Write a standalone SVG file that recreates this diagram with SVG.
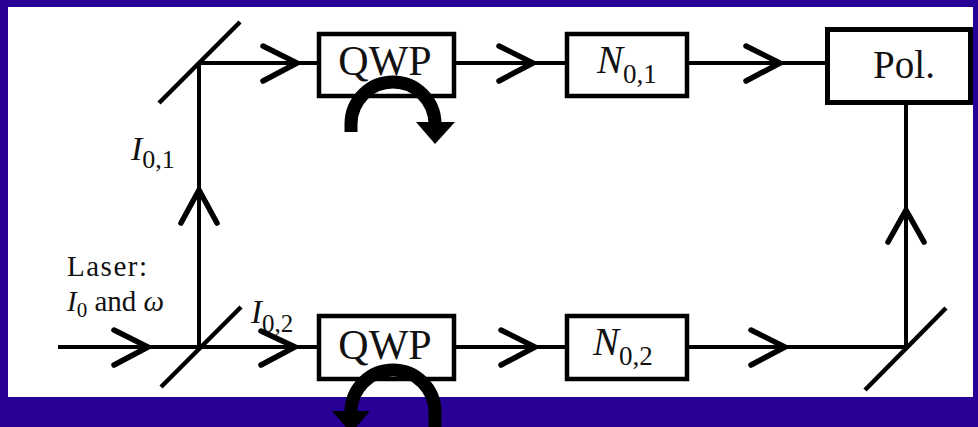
<svg xmlns="http://www.w3.org/2000/svg" width="978" height="427" viewBox="0 0 978 427">
<style>
.bg{fill:#290096}
.paper{fill:#ffffff}
.box{fill:#ffffff;stroke:#000;stroke-width:4.5}
.line{stroke:#000;stroke-width:4;fill:none}
.chev{stroke:#000;stroke-width:5.5;fill:none;stroke-linecap:round;stroke-linejoin:miter}
.mirror{stroke:#000;stroke-width:4.5;fill:none}
.rot{stroke:#000;stroke-width:13;fill:none}
text{fill:#111}
.it{font-style:italic}
</style>
<rect class="bg" x="0" y="0" width="978" height="427"/>
<rect class="paper" x="8" y="7" width="965" height="390"/>

<g id="connectors">
  <path class="line" d="M199 63 H319 M454 63 H567 M687 63 H827"/>
  <path class="line" d="M58 347 H319 M454 347 H567 M687 347 H906"/>
  <path class="line" d="M199 347 V63"/>
  <path class="line" d="M906 347 V103"/>
  <polyline class="chev" points="263,46 297,63 263,81"/>
  <polyline class="chev" points="499,46 533,63 499,81"/>
  <polyline class="chev" points="746,46 780,63 746,81"/>
  <polyline class="chev" points="114,330 148,347 114,365"/>
  <polyline class="chev" points="261,331 295,347 261,365"/>
  <polyline class="chev" points="501,330 535,347 501,365"/>
  <polyline class="chev" points="751,330 785,347 751,365"/>
  <polyline class="chev" points="181,223 199,190 217,223"/>
  <polyline class="chev" points="888,242 906,210 924,242"/>
</g>

<g id="mirror-top"><line class="mirror" x1="159" y1="103" x2="240" y2="22"/></g>
<g id="splitter"><line class="mirror" x1="161" y1="387" x2="241" y2="307"/></g>
<g id="mirror-right"><line class="mirror" x1="865" y1="390" x2="946" y2="308"/></g>

<g id="qwp1">
  <rect class="box" x="319" y="34" width="135" height="62"/>
  <text x="385" y="75" font-family="'Liberation Serif','Times New Roman','DejaVu Serif',serif" font-size="42" text-anchor="middle">QWP</text>
</g>
<g id="n01">
  <rect class="box" x="567" y="34" width="120" height="62"/>
  <text x="597" y="73" font-family="'Liberation Serif','Times New Roman','DejaVu Serif',serif" font-size="39"><tspan class="it">N</tspan><tspan font-size="27" dy="10">0,1</tspan></text>
</g>
<g id="pol">
  <rect class="box" x="827.5" y="29.5" width="143" height="73" style="stroke-width:5"/>
  <text x="904" y="78" font-family="'Liberation Serif','Times New Roman','DejaVu Serif',serif" font-size="39" text-anchor="middle">Pol.</text>
</g>
<g id="qwp2">
  <rect class="box" x="319" y="316" width="135" height="63"/>
  <text x="385" y="359" font-family="'Liberation Serif','Times New Roman','DejaVu Serif',serif" font-size="42" text-anchor="middle">QWP</text>
</g>
<g id="n02">
  <rect class="box" x="567" y="316" width="120" height="63"/>
  <text x="593" y="355" font-family="'Liberation Serif','Times New Roman','DejaVu Serif',serif" font-size="39"><tspan class="it">N</tspan><tspan font-size="27" dy="10">0,2</tspan></text>
</g>

<g id="rot1">
  <path class="rot" d="M351 132 V124 A42 42 0 0 1 435 124"/>
  <polygon points="416,122 455,122 435,144" fill="#000"/>
</g>
<g id="rot2">
  <path class="rot" d="M351 412 A42 42 0 0 1 435 412 V430"/>
  <polygon points="332,411 370,411 351,433" fill="#000"/>
</g>

<g id="labels" font-family="'Liberation Serif','Times New Roman','DejaVu Serif',serif">
  <text x="131" y="160" font-size="34"><tspan class="it">I</tspan><tspan font-size="26" dy="8">0,1</tspan></text>
  <text x="67" y="276" font-size="29" textLength="80" lengthAdjust="spacing">Laser:</text>
  <text x="67" y="311" font-size="29"><tspan class="it">I</tspan><tspan font-size="21" dy="6">0</tspan><tspan dy="-6"> and </tspan><tspan class="it">ω</tspan></text>
  <text x="251" y="323" font-size="33"><tspan class="it">I</tspan><tspan font-size="25" dy="9">0,2</tspan></text>
</g>
</svg>
